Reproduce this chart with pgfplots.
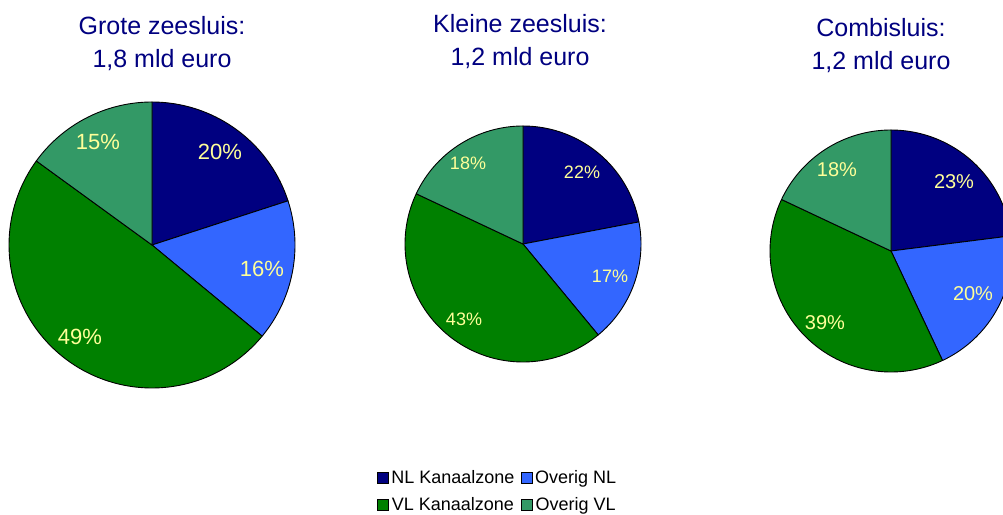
\documentclass[border=0pt]{standalone}
\usepackage{pgfplots}
\pgfplotsset{compat=1.18}
\usepackage{fontspec}
\setmainfont{Liberation Sans}
\definecolor{nlk}{HTML}{000080}
\definecolor{onl}{HTML}{3366FF}
\definecolor{vlk}{HTML}{008000}
\definecolor{ovl}{HTML}{339966}
\definecolor{lab}{HTML}{FFFF99}
\definecolor{tit}{HTML}{000080}
% slice: cx, cy, r, cumulative start %, cumulative end %, colour (clockwise from 12 o'clock)
\newcommand{\pieslice}[6]{%
  \addplot[fill=#6, draw=black, line width=0.9pt, line join=round,
    domain=90-3.6*#5:90-3.6*#4, samples=90, forget plot]
    ({#1+#3*cos(x)},{#2+#3*sin(x)}) -- (axis cs:#1,#2) -- cycle;
}
\begin{document}
\begin{tikzpicture}
\useasboundingbox (0,0) rectangle (1003pt,514pt);
\begin{axis}[
  at={(0,0)}, anchor=south west,
  width=1003pt, height=514pt, scale only axis,
  xmin=0, xmax=1003, ymin=0, ymax=514,
  hide axis, clip=true,
  legend columns=2,
  legend image code/.code={\draw[#1, draw=black, line width=0.6pt] (0pt,-5.5pt) rectangle (11pt,5.5pt);},
  legend style={at={(axis description cs:0.4955,0.0447)}, anchor=center, draw=none, fill=none,
    font=\fontsize{18}{20}\selectfont, row sep=10pt,
    nodes={inner sep=1pt},
    /tikz/every odd column/.append style={column sep=2pt},
    /tikz/every even column/.append style={column sep=5pt}},
]
% Grote zeesluis: 20, 16, 49, 15
\pieslice{152}{269}{143}{0}{20}{nlk}
\pieslice{152}{269}{143}{20}{36}{onl}
\pieslice{152}{269}{143}{36}{85}{vlk}
\pieslice{152}{269}{143}{85}{100}{ovl}
% Kleine zeesluis: 22, 17, 43, 18
\pieslice{523}{270}{118}{0}{22}{nlk}
\pieslice{523}{270}{118}{22}{39}{onl}
\pieslice{523}{270}{118}{39}{82}{vlk}
\pieslice{523}{270}{118}{82}{100}{ovl}
% Combisluis: 23, 20, 39, 18
\pieslice{891}{263}{121}{0}{23}{nlk}
\pieslice{891}{263}{121}{23}{43}{onl}
\pieslice{891}{263}{121}{43}{82}{vlk}
\pieslice{891}{263}{121}{82}{100}{ovl}

\addlegendimage{fill=nlk}\addlegendentry{NL Kanaalzone}
\addlegendimage{fill=onl}\addlegendentry{Overig NL}
\addlegendimage{fill=vlk}\addlegendentry{VL Kanaalzone}
\addlegendimage{fill=ovl}\addlegendentry{Overig VL}

\begin{scope}[every node/.style={text=lab, font=\fontsize{22}{24}\selectfont}]
\node at (axis cs:220,362) {20\%};
\node at (axis cs:262,245) {16\%};
\node at (axis cs:80,177) {49\%};
\node at (axis cs:98,372) {15\%};
\end{scope}
\begin{scope}[every node/.style={text=lab, font=\fontsize{18}{20}\selectfont}]
\node at (axis cs:582,342) {22\%};
\node at (axis cs:610,238) {17\%};
\node at (axis cs:464,195) {43\%};
\node at (axis cs:468,351) {18\%};
\end{scope}
\begin{scope}[every node/.style={text=lab, font=\fontsize{20}{22}\selectfont}]
\node at (axis cs:954,332) {23\%};
\node at (axis cs:973,220) {20\%};
\node at (axis cs:825,191) {39\%};
\node at (axis cs:837,344) {18\%};
\end{scope}

\begin{scope}[every node/.style={text=tit, align=center, font=\fontsize{25}{33}\selectfont}]
\node at (axis cs:162,470) {Grote zeesluis:\\1,8 mld euro};
\node at (axis cs:520,472) {Kleine zeesluis:\\1,2 mld euro};
\node at (axis cs:881,468) {Combisluis:\\1,2 mld euro};
\end{scope}
\end{axis}
\end{tikzpicture}
\end{document}
